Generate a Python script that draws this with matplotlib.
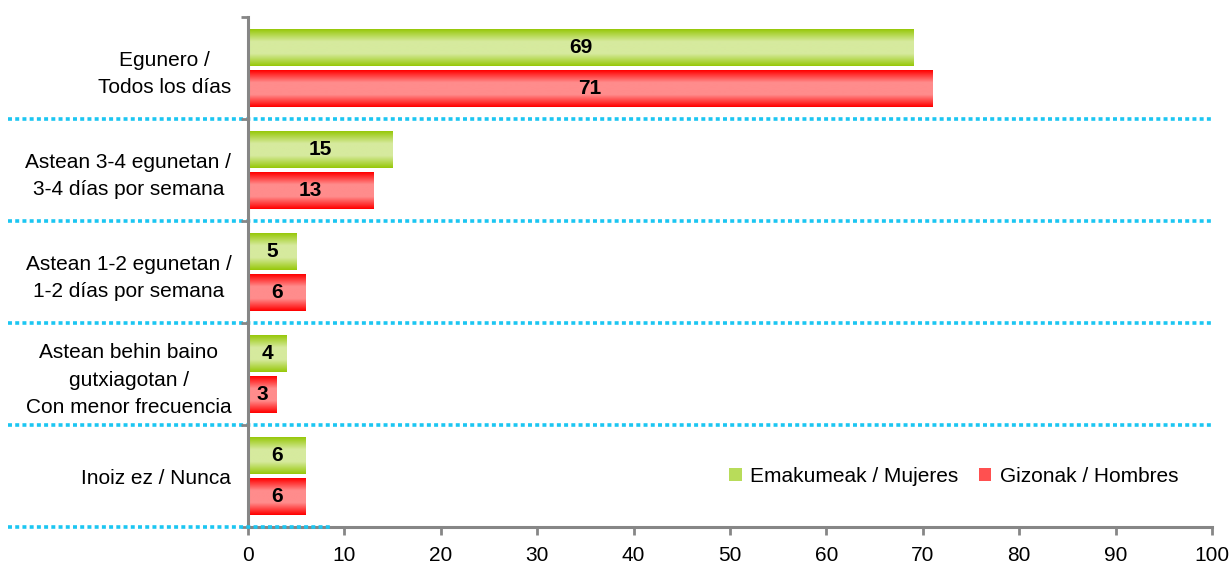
import numpy as np
import matplotlib
matplotlib.use("Agg")
import matplotlib.pyplot as plt
from matplotlib.colors import LinearSegmentedColormap
from matplotlib.patches import Patch

categories = ["Egunero /\nTodos los días",
              "Astean 3-4 egunetan /\n3-4 días por semana",
              "Astean 1-2 egunetan /\n1-2 días por semana",
              "Astean behin baino\ngutxiagotan /\nCon menor frecuencia",
              "Inoiz ez / Nunca"]
women = [69, 15, 5, 4, 6]
men = [71, 13, 6, 3, 6]
series_names = ["Emakumeak / Mujeres", "Gizonak / Hombres"]
xticks = [0, 10, 20, 30, 40, 50, 60, 70, 80, 90, 100]

plt.rcParams['font.family'] = ['Liberation Sans', 'DejaVu Sans']

fig = plt.figure(figsize=(12.31, 5.68), dpi=100)
ax = fig.add_axes([248/1231, 1-527/568, 964/1231, 510/568])

n = len(categories)
ypos = np.arange(n)
off = 0.2
h = 0.36

green_edge, green_mid = "#97C80A", "#D6EA9E"
red_edge, red_mid = "#FF0000", "#FF8C8C"
cm_g = LinearSegmentedColormap.from_list("g", [green_edge, green_mid, green_mid, green_edge])
cm_r = LinearSegmentedColormap.from_list("r", [red_edge, red_mid, red_mid, red_edge])
grad = np.linspace(0, 1, 100).reshape(-1, 1)

def grad_bars(vals, centers, cmap):
    bars = ax.barh(centers, vals, height=h, color="none", edgecolor="none", zorder=2)
    for b in bars:
        x0, y0 = b.get_x(), b.get_y()
        w, hh = b.get_width(), b.get_height()
        ax.imshow(grad, cmap=cmap, aspect="auto", extent=[x0, x0 + w, y0 + hh, y0],
                  zorder=2, interpolation="bilinear")
    return bars

bw = grad_bars(women, ypos - off, cm_g)
bm = grad_bars(men, ypos + off, cm_r)
for bars, vals in ((bw, women), (bm, men)):
    for b, v in zip(bars, vals):
        ax.text(b.get_x() + b.get_width()/2, b.get_y() + b.get_height()/2, f"{v}",
                ha="center", va="center", fontsize=15, fontweight="bold", zorder=3)

ax.set_xlim(0, 100)
ax.set_ylim(n - 0.5, -0.5)
ax.set_xticks(xticks)
ax.set_xticklabels([str(t) for t in xticks], fontsize=15)
ax.set_yticks(ypos)
ax.set_yticklabels(categories, fontsize=15, linespacing=1.55)
for lab in ax.get_yticklabels():
    lab.set_multialignment("center")
    lab.set_horizontalalignment("right")
ax.tick_params(axis="y", length=0, pad=12)
ax.set_yticks(np.arange(n + 1) - 0.5, minor=True)
ax.tick_params(axis="y", which="minor", length=5, width=2, color="#868686")
ax.tick_params(axis="x", length=6, width=2, color="#868686", pad=8)

for s in ("top", "right"):
    ax.spines[s].set_visible(False)
for s in ("left", "bottom"):
    ax.spines[s].set_color("#868686")
    ax.spines[s].set_linewidth(2.2)

# dotted separators
trans = ax.get_yaxis_transform()
x_left = -240/964
for k in range(1, n + 1):
    yb = k - 0.5
    last = k == n
    x_right = 82/964 if last else 1.0
    ax.plot([x_left, x_right], [yb, yb], transform=trans, color="#1CC6F2",
            linewidth=2.6, linestyle=(0, (1.1, 0.9)), clip_on=False,
            zorder=3 if last else 1,
            solid_capstyle="butt", dash_capstyle="butt")

handles = [Patch(facecolor="#B8DC5A", edgecolor="none"), Patch(facecolor="#FF5050", edgecolor="none")]
ax.legend(handles, series_names, loc="center", bbox_to_anchor=(0.732, 0.1), ncol=2,
          frameon=False, fontsize=15, handlelength=0.6, handleheight=0.6,
          handletextpad=0.4, columnspacing=1.0)

fig.savefig("out.png", dpi=100)
